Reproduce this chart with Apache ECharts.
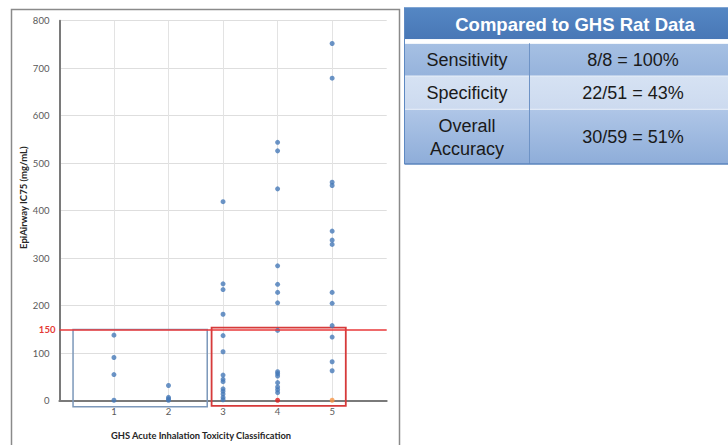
<!DOCTYPE html>
<html>
<head>
<meta charset="utf-8">
<script src="https://cdn.jsdelivr.net/npm/echarts@6/dist/echarts.min.js"></script>
<style>
html,body{margin:0;padding:0;background:#fff;}
#c{width:728px;height:445px;}
</style>
</head>
<body>
<div id="c"></div>
<script>
// ---- data ----
const xTickLabels = ['1', '2', '3', '4', '5'];
const yTickMin = 0, yTickMax = 800, yTickStep = 100;
const cat1 = [138, 91, 55, 1];
const cat2 = [32, 7, 4, 1];
const cat3 = [419, 246, 234, 182, 137, 103, 54, 45, 40, 25, 20, 14, 7, 2];
const cat4 = [544, 526, 446, 284, 245, 228, 206, 148, 61, 57, 52, 38, 29, 23, 17];
const cat5 = [752, 679, 460, 453, 357, 338, 329, 228, 205, 158, 134, 82, 63];
const cat4Flagged = [1];
const cat5Flagged = [1];
const threshold = 150;
const xTitle = 'GHS Acute Inhalation Toxicity Classification';
const yTitle = 'EpiAirway IC75 (mg/mL)';
const tableTitle = 'Compared to GHS Rat Data';
const tableLabels = ['Sensitivity', 'Specificity', 'Overall\nAccuracy'];
const tableValues = ['8/8 = 100%', '22/51 = 43%', '30/59 = 51%'];
// highlighted regions (category span, value span)
const blueBox = [0.25, 150, 2.71, -12.6];
const redBox = [2.79, 154, 5.25, -11];

const blueData = [];
[cat1, cat2, cat3, cat4, cat5].forEach((arr, i) => arr.forEach(v => blueData.push([i + 1, v])));

const chart = echarts.init(document.getElementById('c'), null, {renderer: 'svg'});

const boxSeries = (box, color, width) => ({
  type: 'custom',
  z: 3,
  silent: true,
  clip: false,
  encode: {x: [0, 2], y: [1, 3]},
  data: [box],
  renderItem: (params, api) => {
    const p0 = api.coord([api.value(0), api.value(1)]);
    const p1 = api.coord([api.value(2), api.value(3)]);
    return {
      type: 'rect',
      shape: {x: p0[0], y: p0[1], width: p1[0] - p0[0], height: p1[1] - p0[1]},
      style: {fill: 'none', stroke: color, lineWidth: width}
    };
  }
});

const gx = 404.5, gw = 340, colDiv = 529.5;
const c1 = (gx + colDiv) / 2, c2 = 633;
const rows = [
  {y: 43.3, h: 32.7, fill: {type: 'linear', x: 0, y: 0, x2: 0, y2: 1, colorStops: [{offset: 0, color: '#A6C0E3'}, {offset: 1, color: '#96B3DC'}]}},
  {y: 76, h: 33.3, fill: {type: 'linear', x: 0, y: 0, x2: 0, y2: 1, colorStops: [{offset: 0, color: '#D6E2F3'}, {offset: 1, color: '#CCDAEF'}]}},
  {y: 109.3, h: 54.7, fill: {type: 'linear', x: 0, y: 0, x2: 0, y2: 1, colorStops: [{offset: 0, color: '#AFC6E7'}, {offset: 1, color: '#8EADD9'}]}}
];
const graphics = [
  {type: 'rect', left: 9, top: 7, shape: {width: 388, height: 450}, style: {fill: 'none', stroke: '#8a8a8a', lineWidth: 1.5}, z: 0},
  {type: 'rect', shape: {x: gx, y: 7.3, width: gw, height: 32}, style: {fill: {type: 'linear', x: 0, y: 0, x2: 0, y2: 1, colorStops: [{offset: 0, color: '#5587C4'}, {offset: 1, color: '#4877B6'}]}}},
  {type: 'rect', shape: {x: gx, y: 39.3, width: gw, height: 4}, style: {fill: '#ffffff'}},
  {type: 'text', style: {x: 575, y: 24, text: tableTitle, fill: '#ffffff', font: 'bold 18.5px "Liberation Sans", Arial, sans-serif', textAlign: 'center', textVerticalAlign: 'middle'}}
];
rows.forEach((r, i) => {
  graphics.push({type: 'rect', shape: {x: gx, y: r.y, width: gw, height: r.h}, style: {fill: r.fill}});
  graphics.push({type: 'line', shape: {x1: gx, y1: r.y, x2: gx + gw, y2: r.y}, style: {stroke: i === 0 ? '#ffffff' : '#E8EFF9', lineWidth: 1}});
  graphics.push({type: 'text', style: {x: c1, y: r.y + r.h / 2 + 0.5, text: tableLabels[i], fill: '#1a1a1a', font: '18px "Liberation Sans", Arial, sans-serif', textAlign: 'center', textVerticalAlign: 'middle', lineHeight: 23}});
  graphics.push({type: 'text', style: {x: c2, y: r.y + r.h / 2 + 0.5, text: tableValues[i], fill: '#1a1a1a', font: '18px "Liberation Sans", Arial, sans-serif', textAlign: 'center', textVerticalAlign: 'middle'}});
});
graphics.push({type: 'line', shape: {x1: colDiv, y1: 43.3, x2: colDiv, y2: 164}, style: {stroke: '#6E93C6', lineWidth: 1}});
graphics.push({type: 'line', shape: {x1: gx, y1: 7.3, x2: gx, y2: 164}, style: {stroke: '#5E89C2', lineWidth: 1}});
graphics.push({type: 'line', shape: {x1: gx, y1: 164, x2: gx + gw, y2: 164}, style: {stroke: '#5A84BD', lineWidth: 1.5}});

const axisFont = 'Lato';
const option = {
  animation: false,
  backgroundColor: '#ffffff',
  grid: {left: 59.4, right: 341.3, top: 20.7, bottom: 44.3},
  xAxis: {
    type: 'value', min: 0, max: 6, interval: 1,
    name: xTitle, nameLocation: 'middle', nameGap: 30,
    nameTextStyle: {fontFamily: axisFont, fontWeight: 'bold', fontSize: 9.3, color: '#262626', padding: [0, 44, 0, 0]},
    axisLine: {show: true, onZero: false, lineStyle: {color: '#7a7a7a', width: 2}},
    axisTick: {show: false},
    axisLabel: {fontFamily: axisFont, fontSize: 9.5, color: '#595959', margin: 6,
      formatter: v => (v >= 1 && v <= xTickLabels.length) ? xTickLabels[v - 1] : ''},
    splitLine: {show: true, lineStyle: {color: ['rgba(0,0,0,0)', '#e3e3e3', '#e3e3e3', '#e3e3e3', '#e3e3e3', '#e3e3e3', 'rgba(0,0,0,0)'], width: 1}}
  },
  yAxis: {
    type: 'value', min: yTickMin, max: yTickMax, interval: yTickStep,
    name: yTitle, nameLocation: 'middle', nameGap: 30,
    nameTextStyle: {fontFamily: axisFont, fontWeight: 'bold', fontSize: 9.5, color: '#262626', padding: [0, 0, 0, 26]},
    axisLine: {show: true, lineStyle: {color: '#7a7a7a', width: 2}},
    axisTick: {show: false},
    axisLabel: {fontFamily: axisFont, fontSize: 9.5, color: '#595959', margin: 10},
    splitLine: {show: true, lineStyle: {color: '#dedede', width: 1}}
  },
  graphic: graphics,
  series: [
    {
      type: 'scatter', symbol: 'circle', symbolSize: 5, z: 4,
      itemStyle: {color: '#4679B8'},
      data: blueData,
      markLine: {
        silent: true, symbol: 'none', animation: false,
        lineStyle: {color: '#E8393A', width: 1.7, type: 'solid'},
        label: {position: 'start', formatter: String(threshold), color: '#E53935', fontWeight: 'bold', fontSize: 9.5, fontFamily: axisFont, distance: 4},
        data: [{yAxis: threshold}]
      }
    },
    {type: 'scatter', symbol: 'circle', symbolSize: 5, z: 5, itemStyle: {color: '#E02020'}, data: cat4Flagged.map(v => [4, v])},
    {type: 'scatter', symbol: 'circle', symbolSize: 5, z: 5, itemStyle: {color: '#F79646'}, data: cat5Flagged.map(v => [5, v])},
    boxSeries(blueBox, '#7C98BA', 1.5),
    boxSeries(redBox, '#D63A3A', 1.8)
  ]
};
chart.setOption(option);
</script>
</body>
</html>
